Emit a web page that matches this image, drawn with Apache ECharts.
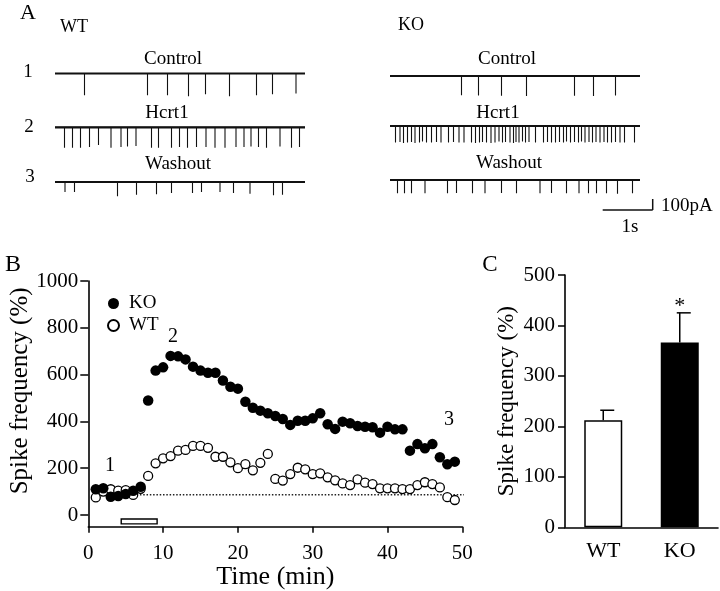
<!DOCTYPE html>
<html>
<head>
<meta charset="utf-8">
<script src="https://cdn.jsdelivr.net/npm/echarts@6/dist/echarts.min.js"></script>
<style>
  html, body { margin: 0; padding: 0; background: #fff; }
  #chart { width: 720px; height: 591px; }
</style>
</head>
<body>
<div id="chart"></div>
<script>
// ---- panel A: spikes as [time (s), amplitude (pA)] ----
var wtControl = [[0.59,197],[1.85,197],[2.25,197],[2.67,206],[3.01,188],[3.49,206],[4.03,197],[4.35,188],[4.82,182]];
var wtHcrt1 = [[0.19,185],[0.35,185],[0.51,185],[0.69,180],[0.87,160],[1.12,185],[1.32,180],[1.45,175],[1.62,170],
  [1.93,185],[2.07,185],[2.33,185],[2.49,180],[2.65,185],[2.83,180],[3.02,180],[3.2,185],[3.4,185],[3.62,180],
  [3.78,180],[3.92,175],[4.07,180],[4.23,185],[4.5,175],[4.73,185],[4.89,180]];
var wtWashout = [[0.2,91],[0.39,91],[1.25,130],[1.63,115],[2.03,112],[2.33,100],[2.75,100],[2.93,91],[3.3,91],
  [3.57,100],[3.9,106],[4.37,121],[4.55,115]];
var koControl = [[1.43,175],[1.77,178],[2.23,180],[2.73,182],[3.69,180],[4.07,182],[4.51,178]];
var koHcrt1 = [[0.11,150],[0.2,145],[0.27,155],[0.35,150],[0.43,145],[0.5,155],[0.59,150],[0.65,140],[0.73,150],
  [0.83,150],[0.93,145],[1.02,150],[1.17,150],[1.27,145],[1.38,150],[1.48,150],[1.63,150],[1.71,155],[1.79,150],
  [1.85,145],[1.93,150],[2.02,155],[2.1,150],[2.18,140],[2.25,150],[2.31,145],[2.4,150],[2.47,155],[2.52,145],
  [2.58,150],[2.65,140],[2.71,150],[2.78,145],[2.91,150],[3.07,150],[3.15,145],[3.23,150],[3.31,150],[3.39,145],
  [3.47,150],[3.53,140],[3.61,150],[3.69,145],[3.77,150],[3.83,140],[3.9,150],[3.98,145],[4.05,150],[4.12,145],
  [4.2,150],[4.28,145],[4.35,150],[4.43,150],[4.51,145],[4.6,150],[4.69,150],[4.89,150]];
var koWashout = [[0.15,120],[0.29,120],[0.43,120],[0.7,120],[1.15,120],[1.33,118],[1.65,120],[1.9,120],[2.23,118],
  [2.53,120],[3.0,120],[3.23,118],[3.53,120],[3.78,120],[3.97,120],[4.13,120],[4.33,120],[4.55,125],[4.85,120]];
var traceDuration = 5;

// ---- panel B: spike frequency (%) per minute ----
var timeMin = [1,2,3,4,5,6,7,8,9,10,11,12,13,14,15,16,17,18,19,20,21,22,23,24,25,
  26,27,28,29,30,31,32,33,34,35,36,37,38,39,40,41,42,43,44,45,46,47,48,49];
var koFreq = [110,114,78,81,90,104,121,489,617,631,680,678,665,634,617,608,608,575,548,540,484,458,446,435,423,
  410,385,403,403,413,435,388,368,399,392,380,377,375,352,377,366,366,275,303,285,303,247,217,228];
var wtFreq = [75,100,110,104,106,86,112,167,221,242,252,275,278,295,295,287,249,249,225,200,217,191,223,261,154,
  147,175,202,195,175,178,161,148,135,128,152,138,132,114,114,114,111,111,128,140,132,118,76,64];
var hcrtApplication = [4.4, 9.2];   // min
var controlLevel = 87;
var controlSpan = [6.9, 50.5];
var bYTicks = [0, 200, 400, 600, 800, 1000];

// ---- panel C ----
var groups = ['WT', 'KO'];
var meanFreq = [212, 366];
var semFreq = [20, 59];
var sigMarks = ['', '*'];

var serif = '"Liberation Serif", "Times New Roman", serif';
var ink = '#111';

function traceData(spikes) {
  var d = [[0, 0]];
  spikes.forEach(function (s) { d.push([s[0], 0], [s[0], -s[1]], [s[0], 0]); });
  d.push([traceDuration, 0]);
  return d;
}

// trace layout: baseline pixel rows and left edges
var pxPerPA = 0.11, pxPerSec = 50;
var traces = [
  { spikes: wtControl, left: 55, base: 73.5 },
  { spikes: wtHcrt1, left: 55, base: 127.3 },
  { spikes: wtWashout, left: 55, base: 182 },
  { spikes: koControl, left: 390, base: 76 },
  { spikes: koHcrt1, left: 390, base: 126 },
  { spikes: koWashout, left: 390, base: 180 }
];

var grids = [], xAxes = [], yAxes = [], series = [];
traces.forEach(function (t, i) {
  grids.push({ left: t.left, top: t.base - 20 * pxPerPA, width: traceDuration * pxPerSec, height: 270 * pxPerPA,
    outerBoundsMode: 'none' });
  xAxes.push({ gridIndex: i, type: 'value', min: 0, max: traceDuration, show: false });
  yAxes.push({ gridIndex: i, type: 'value', min: -250, max: 20, show: false });
  series.push({
    type: 'line', xAxisIndex: i, yAxisIndex: i, data: traceData(t.spikes), showSymbol: false, silent: true,
    lineStyle: { color: ink, width: 1.1 }, clip: false
  });
  series.push({
    type: 'line', xAxisIndex: i, yAxisIndex: i, data: [[0, 0], [traceDuration, 0]], showSymbol: false, silent: true,
    lineStyle: { color: ink, width: 2.2 }, clip: false
  });
});

// panel B grid (index 6)
grids.push({ left: 88.3, top: 281, width: 374, height: 245.7, outerBoundsMode: 'none' });
xAxes.push({
  gridIndex: 6, type: 'value', min: 0, max: 50, interval: 10,
  name: 'Time (min)', nameLocation: 'middle', nameGap: 34,
  nameTextStyle: { fontFamily: serif, fontSize: 26, color: '#000', verticalAlign: 'top' },
  axisLine: { onZero: false, lineStyle: { color: '#000', width: 1.6 } },
  axisTick: { length: 6, lineStyle: { color: '#000', width: 1.5 } },
  axisLabel: { fontFamily: serif, fontSize: 21, color: '#000', margin: 16 },
  splitLine: { show: false }
});
yAxes.push({
  gridIndex: 6, type: 'value', min: -50, max: 1000,
  name: 'Spike frequency (%)', nameLocation: 'middle', nameGap: 55, nameMoveOverlap: false,
  nameTextStyle: { fontFamily: serif, fontSize: 25, color: '#000', padding: [0, 0, 0, 26] },
  axisLine: { onZero: false, lineStyle: { color: '#000', width: 1.6 } },
  axisTick: { length: 8, customValues: bYTicks, lineStyle: { color: '#000', width: 1.5 } },
  axisLabel: { fontFamily: serif, fontSize: 21, color: '#000', margin: 10, customValues: bYTicks,
    formatter: function (v) { return String(v); } },
  splitLine: { show: false }
});

function pairs(xs, ys) { return xs.map(function (x, i) { return [x, ys[i]]; }); }

series.push({
  name: 'WT', type: 'scatter', xAxisIndex: 6, yAxisIndex: 6, data: pairs(timeMin, wtFreq),
  symbol: 'circle', symbolSize: 9, z: 3,
  itemStyle: { color: '#fff', borderColor: '#000', borderWidth: 1.3, opacity: 1 }
});
series.push({
  name: 'KO', type: 'scatter', xAxisIndex: 6, yAxisIndex: 6, data: pairs(timeMin, koFreq),
  symbol: 'circle', symbolSize: 10.5, z: 4,
  itemStyle: { color: '#000', opacity: 1 }
});
series.push({
  type: 'line', xAxisIndex: 6, yAxisIndex: 6, silent: true, showSymbol: false, clip: false,
  data: [[controlSpan[0], controlLevel], [controlSpan[1], controlLevel]],
  lineStyle: { color: '#222', width: 1.5, type: [1.5, 1.8] }, z: 1
});
series.push({
  type: 'custom', xAxisIndex: 6, yAxisIndex: 6, silent: true, clip: false,
  data: [hcrtApplication],
  renderItem: function (params, api) {
    var p1 = api.coord([api.value(0), -17]);
    var p2 = api.coord([api.value(1), -38]);
    return {
      type: 'rect',
      shape: { x: p1[0], y: p1[1], width: p2[0] - p1[0], height: p2[1] - p1[1] },
      style: { fill: '#fff', stroke: '#000', lineWidth: 1.4 }
    };
  }
});

// panel C grid (index 7)
grids.push({ left: 565, top: 275, width: 153, height: 252.3, outerBoundsMode: 'none' });
xAxes.push({
  gridIndex: 7, type: 'category', data: groups,
  axisLine: { lineStyle: { color: '#000', width: 1.6 } },
  axisTick: { show: false },
  axisLabel: { fontFamily: serif, fontSize: 22, color: '#000', margin: 13 }
});
yAxes.push({
  gridIndex: 7, type: 'value', min: 0, max: 500, interval: 100,
  name: 'Spike frequency (%)', nameLocation: 'middle', nameGap: 47, nameMoveOverlap: false,
  nameTextStyle: { fontFamily: serif, fontSize: 23, color: '#000' },
  axisLine: { show: true, lineStyle: { color: '#000', width: 1.6 } },
  axisTick: { show: true, length: 7, lineStyle: { color: '#000', width: 1.5 } },
  axisLabel: { fontFamily: serif, fontSize: 21, color: '#000', margin: 10 },
  splitLine: { show: false }
});
series.push({
  type: 'bar', xAxisIndex: 7, yAxisIndex: 7, barWidth: 38, silent: true,
  data: meanFreq.map(function (v, i) {
    return { value: v, itemStyle: { color: i === 0 ? '#fff' : '#000', borderColor: '#000', borderWidth: 1.5 } };
  })
});
series.push({
  type: 'custom', xAxisIndex: 7, yAxisIndex: 7, silent: true, z: 5,
  data: meanFreq.map(function (v, i) { return [i, v, semFreq[i], sigMarks[i]]; }),
  renderItem: function (params, api) {
    var base = api.coord([api.value(0), api.value(1)]);
    var top = api.coord([api.value(0), api.value(1) + api.value(2)]);
    var st = { stroke: '#000', lineWidth: 1.5 };
    var kids = [
      { type: 'line', shape: { x1: base[0], y1: base[1], x2: top[0], y2: top[1] }, style: st },
      { type: 'line', shape: { x1: top[0] - 3, y1: top[1], x2: top[0] + 11, y2: top[1] }, style: st }
    ];
    var mark = sigMarks[params.dataIndex];
    if (mark) {
      kids.push({ type: 'text', x: top[0], y: top[1] - 7,
        style: { text: mark, font: '22px ' + serif, fill: '#000', align: 'center', verticalAlign: 'middle' } });
    }
    return { type: 'group', children: kids };
  }
});

function txt(s, x, y, size, extra) {
  var e = { type: 'text', x: x, y: y, silent: true,
    style: { text: s, font: size + 'px ' + serif, fill: '#000', align: 'center', verticalAlign: 'middle' } };
  if (extra) Object.assign(e.style, extra);
  return e;
}

var graphics = [
  txt('A', 28, 13, 22), txt('WT', 74, 27, 18), txt('KO', 411, 25, 18),
  txt('Control', 173, 59, 19), txt('Hcrt1', 167, 113, 19), txt('Washout', 178, 164, 19),
  txt('1', 28, 72, 19), txt('2', 29, 127, 19), txt('3', 30, 177, 19),
  txt('Control', 507, 59, 19), txt('Hcrt1', 498, 113, 19), txt('Washout', 509, 163, 19),
  // scale bar
  { type: 'line', silent: true, shape: { x1: 652.7 - pxPerSec, y1: 210, x2: 652.7, y2: 210 }, style: { stroke: ink, lineWidth: 1.5 } },
  { type: 'line', silent: true, shape: { x1: 652.7, y1: 210 - 100 * pxPerPA, x2: 652.7, y2: 210 }, style: { stroke: ink, lineWidth: 1.5 } },
  txt('100pA', 661, 206, 19, { align: 'left' }), txt('1s', 630, 227, 19),
  txt('B', 13, 265, 24), txt('C', 490, 265, 23),
  txt('1', 110, 466, 20), txt('2', 173, 337, 20), txt('3', 449, 420, 20)
];

var chart = echarts.init(document.getElementById('chart'));
chart.setOption({
  animation: false,
  backgroundColor: '#fff',
  grid: grids,
  xAxis: xAxes,
  yAxis: yAxes,
  legend: {
    data: ['KO', 'WT'], orient: 'vertical', left: 102, top: 289, icon: 'circle',
    itemWidth: 11, itemHeight: 11, itemGap: 3, selectedMode: false,
    textStyle: { fontFamily: serif, fontSize: 19, color: '#000', lineHeight: 19, padding: [0, 0, 0, 5] }
  },
  graphic: graphics,
  series: series
});
</script>
</body>
</html>
